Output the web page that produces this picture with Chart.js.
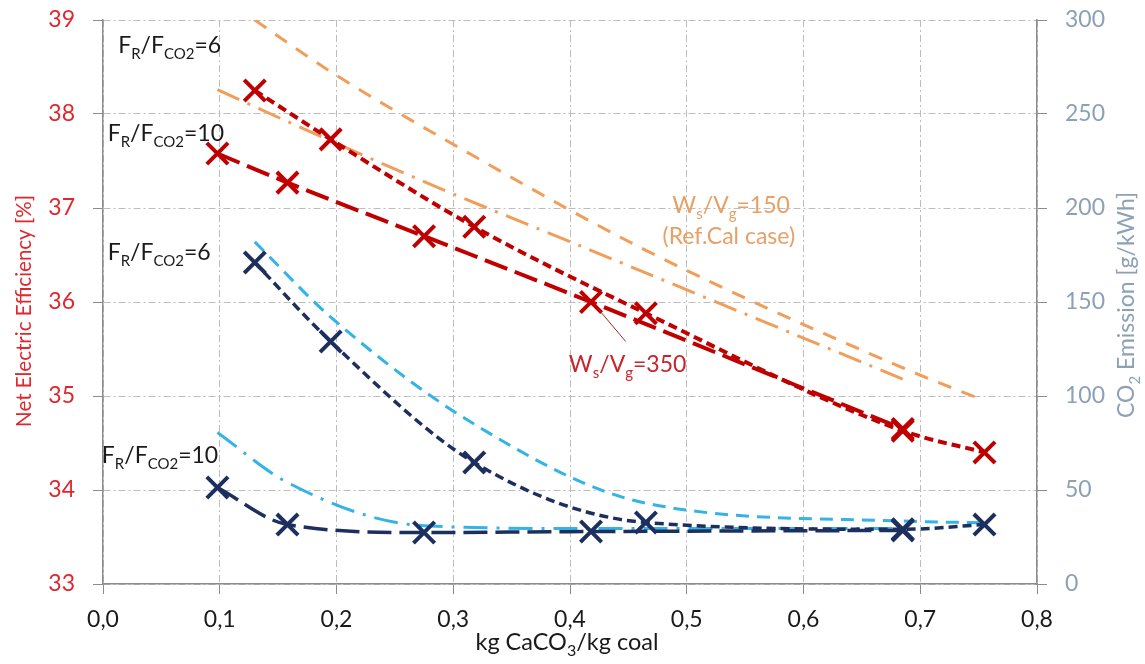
<!DOCTYPE html>
<html>
<head>
<meta charset="utf-8">
<script src="https://cdn.jsdelivr.net/npm/chart.js@4.4.0/dist/chart.umd.min.js"></script>
<style>
  html, body { margin: 0; padding: 0; background: #fff; }
  #wrap { width: 1145px; height: 664px; }
</style>
</head>
<body>
<div id="wrap"><canvas id="chart"></canvas></div>
<script>
// kg CaCO3 / kg coal
const xFr6 = [0.13, 0.195, 0.318, 0.465, 0.685, 0.755];
const xFr10 = [0.098, 0.158, 0.275, 0.418, 0.685];

// net electric efficiency [%]
const effFr6Ws350 = [38.25, 37.73, 36.8, 35.88, 34.63, 34.4];
const effFr10Ws350 = [37.58, 37.27, 36.7, 36.0, 34.65];
const effFr6Ws150 = [39.0, 38.45, 37.55, 36.55, 35.3, 34.95];
const effFr10Ws150 = [38.26, 37.92, 37.28, 36.55, 35.18];

// CO2 emission [g/kWh]
const co2Fr6Ws350 = [171, 129, 64.6, 32.7, 29.1, 31.6];
const co2Fr10Ws350 = [51.3, 31.6, 27.4, 27.9, 28.5];
const co2Fr6Ws150 = [182, 142, 85, 43, 33.5, 32.5];
const co2Fr10Ws150 = [80.6, 54, 31, 29.5, 29.5];

// axis ticks
const xTickValues = [0, 0.1, 0.2, 0.3, 0.4, 0.5, 0.6, 0.7, 0.8];
const xTickLabels = ['0,0', '0,1', '0,2', '0,3', '0,4', '0,5', '0,6', '0,7', '0,8'];
const effTicks = [33, 34, 35, 36, 37, 38, 39];
const co2Ticks = [0, 50, 100, 150, 200, 250, 300];

const FONT = 'Lato, "Open Sans", sans-serif';
const RED = '#C00000';
const ORANGE = '#F09E5A';
const NAVY = '#1C2F5E';
const SKY = '#34B3E4';
const GRID = '#BDBDBD';
const AXIS = '#8C8C8C';

function series(label, xs, ys, axis, color, dash, width, marks) {
    return {
        label: label,
        yAxisID: axis,
        data: xs.map((x, i) => ({ x: x, y: ys[i] })),
        borderColor: color,
        borderDash: dash,
        borderWidth: width,
        pointStyle: 'crossRot',
        pointRadius: marks ? 15 : 0,
        pointBorderWidth: 4,
        pointBorderColor: color,
        pointBackgroundColor: color,
        cubicInterpolationMode: 'monotone',
        fill: false
    };
}

// draw text with _{sub} parts
function drawRich(ctx, str, x, y, size, color, align) {
    const parts = str.split(/_\{([^}]*)\}/);
    const fontN = size + 'px ' + FONT;
    const fontS = Math.round(size * 0.66) + 'px ' + FONT;
    ctx.save();
    ctx.fillStyle = color;
    ctx.textAlign = 'left';
    ctx.textBaseline = 'alphabetic';
    let w = 0;
    parts.forEach((p, i) => {
        ctx.font = i % 2 ? fontS : fontN;
        w += ctx.measureText(p).width;
    });
    let cx = align === 'center' ? x - w / 2 : x;
    parts.forEach((p, i) => {
        ctx.font = i % 2 ? fontS : fontN;
        ctx.fillText(p, cx, y + (i % 2 ? size * 0.27 : 0));
        cx += ctx.measureText(p).width;
    });
    ctx.restore();
}

const notes = [
    { text: 'F_{R}/F_{CO2}=6', x: 0.013, y: 38.65, color: '#1A1A1A', align: 'left' },
    { text: 'F_{R}/F_{CO2}=10', x: 0.004, y: 37.71, color: '#1A1A1A', align: 'left' },
    { text: 'F_{R}/F_{CO2}=6', x: 0.004, y: 36.45, color: '#1A1A1A', align: 'left' },
    { text: 'F_{R}/F_{CO2}=10', x: -0.001, y: 34.29, color: '#1A1A1A', align: 'left' },
    { text: 'W_{s}/V_{g}=150', x: 0.538, y: 36.95, color: '#E8A066', align: 'center' },
    { text: '(Ref.Cal case)', x: 0.536, y: 36.62, color: '#E8A066', align: 'center' },
    { text: 'W_{s}/V_{g}=350', x: 0.399, y: 35.26, color: '#C8242B', align: 'left' }
];

const notesPlugin = {
    id: 'notes',
    afterDraw(chart) {
        const ctx = chart.ctx;
        const xs = chart.scales.x;
        const ys = chart.scales.y;
        const area = chart.chartArea;

        // leader line to the 350 curve
        ctx.save();
        ctx.strokeStyle = '#9B2A2A';
        ctx.lineWidth = 1;
        ctx.beginPath();
        ctx.moveTo(xs.getPixelForValue(0.4246), ys.getPixelForValue(35.92));
        ctx.lineTo(xs.getPixelForValue(0.4477), ys.getPixelForValue(35.58));
        ctx.stroke();
        ctx.restore();

        notes.forEach(n => {
            drawRich(ctx, n.text, xs.getPixelForValue(n.x), ys.getPixelForValue(n.y), 23, n.color, n.align);
        });

        // axis titles
        ctx.save();
        ctx.translate(24, 311);
        ctx.rotate(-Math.PI / 2);
        drawRich(ctx, 'Net Electric Efficiency [%]', 0, 7, 20.5, '#E0262E', 'center');
        ctx.restore();

        ctx.save();
        ctx.translate(1126, 305);
        ctx.rotate(-Math.PI / 2);
        drawRich(ctx, 'CO_{2} Emission [g/kWh]', 0, 8, 23, '#8DA1B6', 'center');
        ctx.restore();

        drawRich(ctx, 'kg CaCO_{3}/kg coal', (area.left + area.right) / 2 - 3, 650, 23.5, '#1A1A1A', 'center');
    }
};

const tickFont = { family: FONT, size: 23 };

function fixWidth(w) {
    return s => {
        s.width = w;
        s.paddingTop = 0;
        s.paddingBottom = 0;
    };
}

new Chart(document.getElementById('chart'), {
    type: 'line',
    data: {
        datasets: [
            series('FR/FCO2=6, Ws/Vg=350', xFr6, effFr6Ws350, 'y', RED, [9, 5], 4, true),
            series('FR/FCO2=10, Ws/Vg=350', xFr10, effFr10Ws350, 'y', RED, [24, 8], 4, true),
            series('CO2 FR/FCO2=6, Ws/Vg=350', xFr6, co2Fr6Ws350, 'y2', NAVY, [9, 5], 3.5, true),
            series('CO2 FR/FCO2=10, Ws/Vg=350', xFr10, co2Fr10Ws350, 'y2', NAVY, [24, 8], 3.5, true),
            series('FR/FCO2=6, Ws/Vg=150', xFr6, effFr6Ws150, 'y', ORANGE, [14, 11], 3, false),
            series('FR/FCO2=10, Ws/Vg=150', xFr10, effFr10Ws150, 'y', ORANGE, [24, 9, 3, 9], 3, false),
            series('CO2 FR/FCO2=6, Ws/Vg=150', xFr6, co2Fr6Ws150, 'y2', SKY, [13, 8], 3, false),
            series('CO2 FR/FCO2=10, Ws/Vg=150', xFr10, co2Fr10Ws150, 'y2', SKY, [24, 9, 3, 9], 3, false)
        ]
    },
    options: {
        responsive: true,
        maintainAspectRatio: false,
        animation: false,
        devicePixelRatio: 1,
        layout: { padding: { top: 20, left: 3, right: 0, bottom: 0 } },
        plugins: {
            legend: { display: false },
            tooltip: { enabled: false }
        },
        scales: {
            x: {
                type: 'linear',
                min: 0,
                max: 0.8,
                afterBuildTicks: s => { s.ticks = xTickValues.map(v => ({ value: v })); },
                afterFit: s => { s.height = 80; },
                ticks: {
                    callback: (v, i) => xTickLabels[i],
                    color: '#1A1A1A',
                    font: tickFont,
                    padding: 12,
                    maxRotation: 0
                },
                grid: { color: GRID, lineWidth: 1, tickLength: 10, tickColor: AXIS },
                border: { color: AXIS, width: 1.5, dash: [7, 3, 2, 3] }
            },
            y: {
                position: 'left',
                min: 33,
                max: 39,
                afterBuildTicks: s => { s.ticks = effTicks.map(v => ({ value: v })); },
                afterFit: fixWidth(100),
                ticks: { color: '#E0262E', font: tickFont, padding: 18 },
                grid: { color: GRID, lineWidth: 1, tickLength: 10, tickColor: AXIS },
                border: { color: AXIS, width: 1.5, dash: [7, 3, 2, 3] }
            },
            y2: {
                position: 'right',
                min: 0,
                max: 300,
                afterBuildTicks: s => { s.ticks = co2Ticks.map(v => ({ value: v })); },
                afterFit: fixWidth(108),
                ticks: { color: '#8DA1B6', font: tickFont, padding: 18 },
                grid: { drawOnChartArea: false, tickLength: 10, tickColor: AXIS },
                border: { color: AXIS, width: 1.5 }
            }
        }
    },
    plugins: [notesPlugin]
});
</script>
</body>
</html>
